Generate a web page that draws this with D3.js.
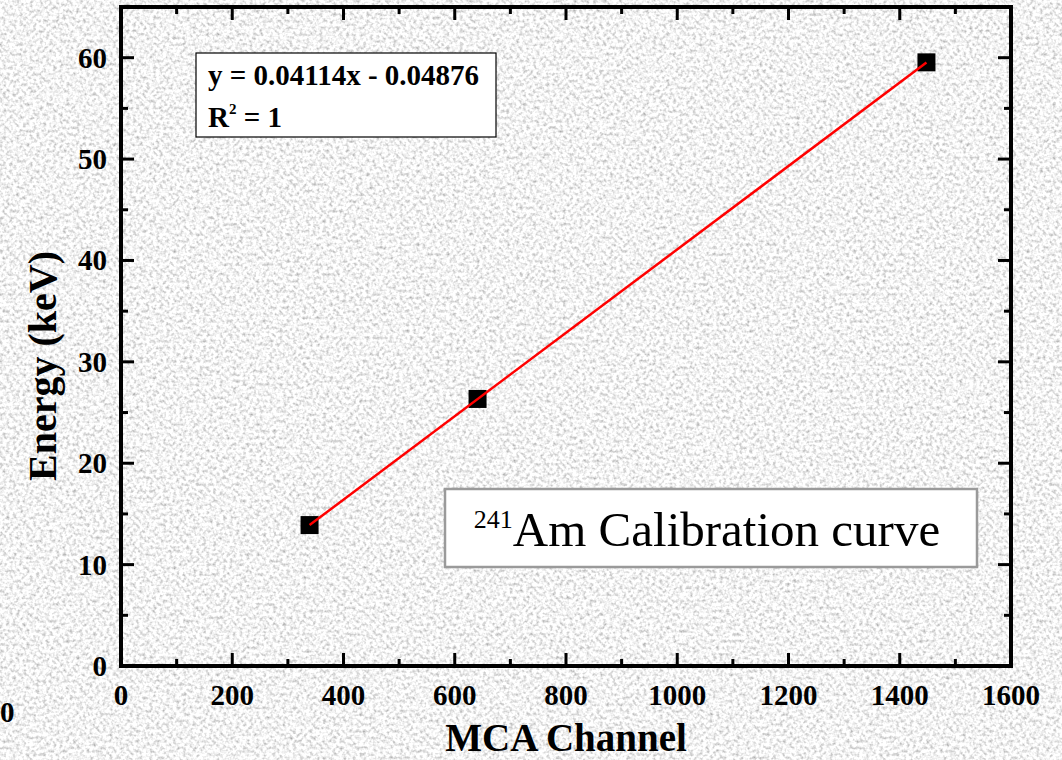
<!DOCTYPE html>
<html>
<head>
<meta charset="utf-8">
<script src="https://cdn.jsdelivr.net/npm/d3@7"></script>
<style>
  html, body { margin: 0; padding: 0; background: #e4e4e4; }
  svg { display: block; }
  text { font-family: "Liberation Serif", "Times New Roman", serif; }
</style>
</head>
<body>
<svg id="chart" width="1062" height="760"></svg>
<script>
// Am-241 peaks: MCA channel vs. known line energy (keV)
const channels = [339, 641, 1448];
const energies = [13.9, 26.34, 59.54];

// Linear calibration fit
const slope = 0.04114;
const intercept = -0.04876;
const fitText = "y = 0.04114x - 0.04876";
const r2Value = "1";

const xTicks = [0, 200, 400, 600, 800, 1000, 1200, 1400, 1600];
const yTicks = [0, 10, 20, 30, 40, 50, 60];
const xMinor = d3.range(100, 1600, 200);
const yMinor = d3.range(5, 65, 10);

const W = 1062, H = 760;
const m = { left: 121, right: 1011, top: 7, bottom: 666 };

const svg = d3.select("#chart");

// grainy paper background
const defs = svg.append("defs");
const grain = defs.append("filter").attr("id", "grain")
  .attr("x", 0).attr("y", 0).attr("width", W).attr("height", H)
  .attr("filterUnits", "userSpaceOnUse");
grain.append("feTurbulence").attr("type", "fractalNoise")
  .attr("baseFrequency", 0.3).attr("numOctaves", 2).attr("seed", 7).attr("result", "t");
grain.append("feColorMatrix").attr("type", "matrix")
  .attr("values", "1.2 0 0 0 0.3  1.2 0 0 0 0.3  1.2 0 0 0 0.3  0 0 0 0 1");
svg.append("rect").attr("width", W).attr("height", H).attr("filter", "url(#grain)");

const x = d3.scaleLinear().domain([0, 1600]).range([m.left, m.right]);
const y = d3.scaleLinear().domain([0, 65]).range([m.bottom, m.top]);

const axisG = svg.append("g");

// inward ticks on all four sides
function xticks(vals, len, width) {
  vals.forEach(v => {
    axisG.append("line").attr("x1", x(v)).attr("x2", x(v))
      .attr("y1", m.bottom).attr("y2", m.bottom - len)
      .attr("stroke", "#000").attr("stroke-width", width);
    axisG.append("line").attr("x1", x(v)).attr("x2", x(v))
      .attr("y1", m.top).attr("y2", m.top + len)
      .attr("stroke", "#000").attr("stroke-width", width);
  });
}
function yticks(vals, len, width) {
  vals.forEach(v => {
    axisG.append("line").attr("y1", y(v)).attr("y2", y(v))
      .attr("x1", m.left).attr("x2", m.left + len)
      .attr("stroke", "#000").attr("stroke-width", width);
    axisG.append("line").attr("y1", y(v)).attr("y2", y(v))
      .attr("x1", m.right).attr("x2", m.right - len)
      .attr("stroke", "#000").attr("stroke-width", width);
  });
}
xticks(xTicks, 13, 3);
xticks(xMinor, 7, 3);
yticks(yTicks, 13, 3);
yticks(yMinor, 7, 3);

// frame
axisG.append("rect")
  .attr("x", m.left).attr("y", m.top)
  .attr("width", m.right - m.left).attr("height", m.bottom - m.top)
  .attr("fill", "none").attr("stroke", "#000").attr("stroke-width", 4);

// tick labels
svg.append("g").selectAll("text").data(xTicks).join("text")
  .attr("x", d => x(d)).attr("y", 705)
  .attr("text-anchor", "middle").attr("font-size", 29).attr("font-weight", "bold")
  .text(d => d);
svg.append("g").selectAll("text").data(yTicks).join("text")
  .attr("x", 107).attr("y", d => y(d) + 10)
  .attr("text-anchor", "end").attr("font-size", 29).attr("font-weight", "bold")
  .text(d => d);

// neighbouring panel's label at the left edge
svg.append("text").attr("x", 0).attr("y", 722)
  .attr("font-size", 29).attr("font-weight", "bold").text("0");

// axis titles
svg.append("text").attr("x", 566).attr("y", 751)
  .attr("text-anchor", "middle").attr("font-size", 39).attr("font-weight", "bold")
  .text("MCA Channel");
svg.append("text")
  .attr("transform", "translate(56,366) rotate(-90)")
  .attr("text-anchor", "middle").attr("font-size", 40).attr("font-weight", "bold")
  .text("Energy (keV)");

// fit line across the data range
const xs = d3.extent(channels);
const line = d3.line().x(d => x(d[0])).y(d => y(d[1]));

// data markers
const sq = 18;
svg.append("g").selectAll("rect").data(channels).join("rect")
  .attr("x", d => x(d) - sq / 2)
  .attr("y", (d, i) => y(energies[i]) - sq / 2)
  .attr("width", sq).attr("height", sq).attr("fill", "#000");

svg.append("path")
  .attr("d", line(xs.map(c => [c, slope * c + intercept])))
  .attr("fill", "none").attr("stroke", "#ff0000").attr("stroke-width", 2.5);

// equation box
svg.append("rect").attr("x", 196).attr("y", 53).attr("width", 300).attr("height", 84)
  .attr("fill", "#fff").attr("stroke", "#000").attr("stroke-width", 1.2);
svg.append("text").attr("x", 208).attr("y", 85)
  .attr("font-size", 29).attr("font-weight", "bold").text(fitText);
const r2 = svg.append("text").attr("x", 208).attr("y", 127)
  .attr("font-size", 29).attr("font-weight", "bold");
r2.append("tspan").text("R");
r2.append("tspan").attr("font-size", 15).attr("dy", -13).text("2");
r2.append("tspan").attr("dy", 13).text(" = " + r2Value);

// title box
svg.append("rect").attr("x", 445).attr("y", 489).attr("width", 532).attr("height", 78)
  .attr("fill", "#fff").attr("stroke", "#9a9a9a").attr("stroke-width", 2.5);
const t = svg.append("text").attr("x", 707).attr("y", 546)
  .attr("text-anchor", "middle").attr("font-size", 49);
t.append("tspan").attr("font-size", 26).attr("dy", -18).text("241");
t.append("tspan").attr("dy", 18).text("Am Calibration curve");
</script>
</body>
</html>
